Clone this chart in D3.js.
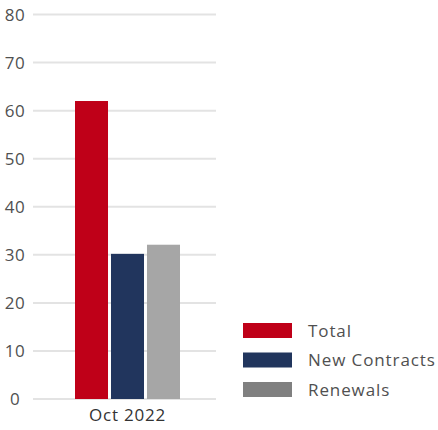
<!DOCTYPE html>
<html>
<head>
<meta charset="utf-8">
<script src="https://cdn.jsdelivr.net/npm/d3@7"></script>
<style>
	body { margin: 0; background: #fff; }
	text { font-family: "Open Sans", Lato, sans-serif; fill: #505050; }
</style>
</head>
<body>
<div id="chart"></div>
<script>
"use strict";

var categories = ["Oct 2022"];
var seriesNames = ["Total", "New Contracts", "Renewals"];
var seriesValues = [[62], [30.2], [32.1]];
var yTicks = [0, 10, 20, 30, 40, 50, 60, 70, 80];

var barColors = ["#bf0018", "#21355d", "#a6a6a6"];
var legendColors = ["#bf0018", "#21355d", "#808080"];

var width = 438, height = 430;
var svg = d3.select("#chart").append("svg")
	.attr("width", width)
	.attr("height", height);

var scaleY = d3.scaleLinear().domain([0, 80]).range([399, 14.5]);
var scaleX = d3.scaleBand().domain(categories).range([33, 222]);
var scaleS = d3.scaleBand().domain(seriesNames)
	.range([scaleX(categories[0]) + scaleX.bandwidth() / 2 - 52.5,
		scaleX(categories[0]) + scaleX.bandwidth() / 2 + 52.5])
	.paddingInner(0.083);

// gridlines
svg.append("g").selectAll("line")
	.data(yTicks)
	.enter().append("line")
	.attr("x1", 33).attr("x2", 216)
	.attr("y1", function(d) { return scaleY(d); })
	.attr("y2", function(d) { return scaleY(d); })
	.attr("stroke", "#e3e3e3")
	.attr("stroke-width", 2);

// y labels
svg.append("g").selectAll("text")
	.data(yTicks)
	.enter().append("text")
	.attr("x", 15)
	.attr("y", function(d) { return scaleY(d); })
	.attr("dy", "0.36em")
	.attr("text-anchor", "middle")
	.style("font-size", "17px")
	.style("letter-spacing", "0.5px")
	.text(function(d) { return d; });

// bars
categories.forEach(function(cat, ci) {
	svg.append("g").selectAll("rect")
		.data(seriesNames)
		.enter().append("rect")
		.attr("x", function(d) { return scaleS(d); })
		.attr("width", scaleS.bandwidth())
		.attr("y", function(d, i) { return scaleY(seriesValues[i][ci]); })
		.attr("height", function(d, i) { return scaleY(0) - scaleY(seriesValues[i][ci]); })
		.attr("fill", function(d, i) { return barColors[i]; });
});

// x labels
svg.append("g").selectAll("text")
	.data(categories)
	.enter().append("text")
	.attr("x", function(d) { return scaleX(d) + scaleX.bandwidth() / 2; })
	.attr("y", 421)
	.attr("text-anchor", "middle")
	.style("font-size", "17px")
	.style("letter-spacing", "0.8px")
	.style("fill", "#333")
	.text(function(d) { return d; });

// legend
var legend = svg.append("g").selectAll("g")
	.data(seriesNames)
	.enter().append("g")
	.attr("transform", function(d, i) { return "translate(243," + (323 + i * 29.5) + ")"; });
legend.append("rect")
	.attr("width", 49)
	.attr("height", 15)
	.attr("fill", function(d, i) { return legendColors[i]; });
legend.append("text")
	.attr("x", 65)
	.attr("y", 7.5)
	.attr("dy", "0.36em")
	.style("font-size", "17px")
	.style("letter-spacing", "0.9px")
	.text(function(d) { return d; });
</script>
</body>
</html>
